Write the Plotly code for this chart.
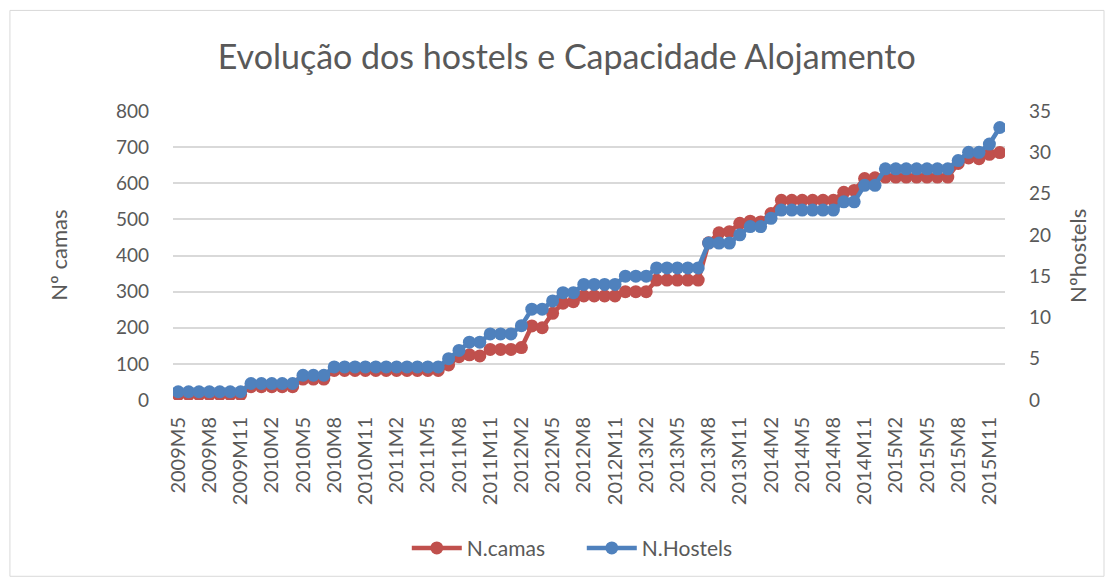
import plotly.graph_objects as go

# categorias mensais
meses = [
    '2009M5', '2009M6', '2009M7', '2009M8', '2009M9', '2009M10', '2009M11', '2009M12',
    '2010M1', '2010M2', '2010M3', '2010M4', '2010M5', '2010M6', '2010M7', '2010M8',
    '2010M9', '2010M10', '2010M11', '2010M12', '2011M1', '2011M2', '2011M3', '2011M4',
    '2011M5', '2011M6', '2011M7', '2011M8', '2011M9', '2011M10', '2011M11', '2011M12',
    '2012M1', '2012M2', '2012M3', '2012M4', '2012M5', '2012M6', '2012M7', '2012M8',
    '2012M9', '2012M10', '2012M11', '2012M12', '2013M1', '2013M2', '2013M3', '2013M4',
    '2013M5', '2013M6', '2013M7', '2013M8', '2013M9', '2013M10', '2013M11', '2013M12',
    '2014M1', '2014M2', '2014M3', '2014M4', '2014M5', '2014M6', '2014M7', '2014M8',
    '2014M9', '2014M10', '2014M11', '2014M12', '2015M1', '2015M2', '2015M3', '2015M4',
    '2015M5', '2015M6', '2015M7', '2015M8', '2015M9', '2015M10', '2015M11', '2015M12',
]

n_camas = [
    15, 15, 15, 15, 15, 15, 15, 37,
    37, 37, 37, 37, 58, 58, 58, 82,
    82, 82, 82, 82, 82, 82, 82, 82,
    82, 82, 97, 120, 125, 122, 140, 140,
    140, 145, 205, 200, 240, 268, 272, 288,
    288, 288, 288, 300, 300, 300, 332, 332,
    332, 332, 332, 435, 463, 466, 489, 495,
    493, 516, 553, 553, 553, 553, 553, 553,
    575, 580, 613, 615, 617, 617, 617, 617,
    617, 617, 617, 655, 670, 668, 680, 685,
]

n_hostels = [
    1, 1, 1, 1, 1, 1, 1, 2,
    2, 2, 2, 2, 3, 3, 3, 4,
    4, 4, 4, 4, 4, 4, 4, 4,
    4, 4, 5, 6, 7, 7, 8, 8,
    8, 9, 11, 11, 12, 13, 13, 14,
    14, 14, 14, 15, 15, 15, 16, 16,
    16, 16, 16, 19, 19, 19, 20, 21,
    21, 22, 23, 23, 23, 23, 23, 23,
    24, 24, 26, 26, 28, 28, 28, 28,
    28, 28, 28, 29, 30, 30, 31, 33,
]

# rótulos do eixo x (de 3 em 3 meses)
rotulos_x = meses[::3]

cinza = '#595959'
vermelho = '#C0504D'
azul = '#4F81BD'
fonte = 'Lato'

fig = go.Figure()
fig.add_trace(go.Scatter(
    x=meses, y=n_camas, name='N.camas', mode='lines+markers',
    line=dict(color=vermelho, width=4.5),
    marker=dict(color=vermelho, size=13),
))
fig.add_trace(go.Scatter(
    x=meses, y=n_hostels, name='N.Hostels', mode='lines+markers',
    line=dict(color=azul, width=4.5),
    marker=dict(color=azul, size=13),
    yaxis='y2',
))

fig.update_layout(
    width=1113, height=580,
    paper_bgcolor='white', plot_bgcolor='white',
    margin=dict(l=165, r=116, t=103, b=188),
    font=dict(family=fonte, color=cinza, size=18),
    title=dict(text='Evolução dos hostels e Capacidade Alojamento',
               x=0.502, xanchor='center', y=0.916, yanchor='middle',
               font=dict(size=34, color=cinza, family=fonte)),
    showlegend=True,
    legend=dict(orientation='h', x=0.281, xanchor='left', y=-0.513, yanchor='middle',
                font=dict(size=21, color=cinza), itemwidth=50, entrywidth=110),
    xaxis=dict(type='category', range=[-0.5, 79.5],
               tickmode='array', tickvals=rotulos_x, ticktext=rotulos_x,
               tickangle=-90, tickfont=dict(size=20, color=cinza),
               ticklabelstandoff=12,
               showgrid=False, showline=False, zeroline=False, ticks=''),
    yaxis=dict(range=[0, 800], dtick=100, showgrid=True, gridcolor='#D9D9D9',
               gridwidth=1.5, zeroline=False, showline=False, ticks='',
               ticklabelstandoff=23, tickfont=dict(size=19, color=cinza)),
    yaxis2=dict(range=[0, 35], dtick=5, overlaying='y', side='right',
                showgrid=False, zeroline=False, showline=False, ticks='',
                ticklabelstandoff=23, tickfont=dict(size=19, color=cinza)),
    annotations=[
        dict(text='Nº camas', xref='paper', yref='paper', x=-0.138, y=0.5,
             xanchor='center', yanchor='middle',
             textangle=-90, showarrow=False, font=dict(size=22, color=cinza)),
        dict(text='Nºhostels', xref='paper', yref='paper', x=1.087, y=0.5,
             xanchor='center', yanchor='middle',
             textangle=-90, showarrow=False, font=dict(size=22, color=cinza)),
    ],
    shapes=[
        dict(type='rect', xref='paper', yref='paper', x0=-0.196, x1=1.119,
             y0=-0.61, y1=1.348, line=dict(color='#D9D9D9', width=1)),
    ],
)

fig.write_html('out.html')
